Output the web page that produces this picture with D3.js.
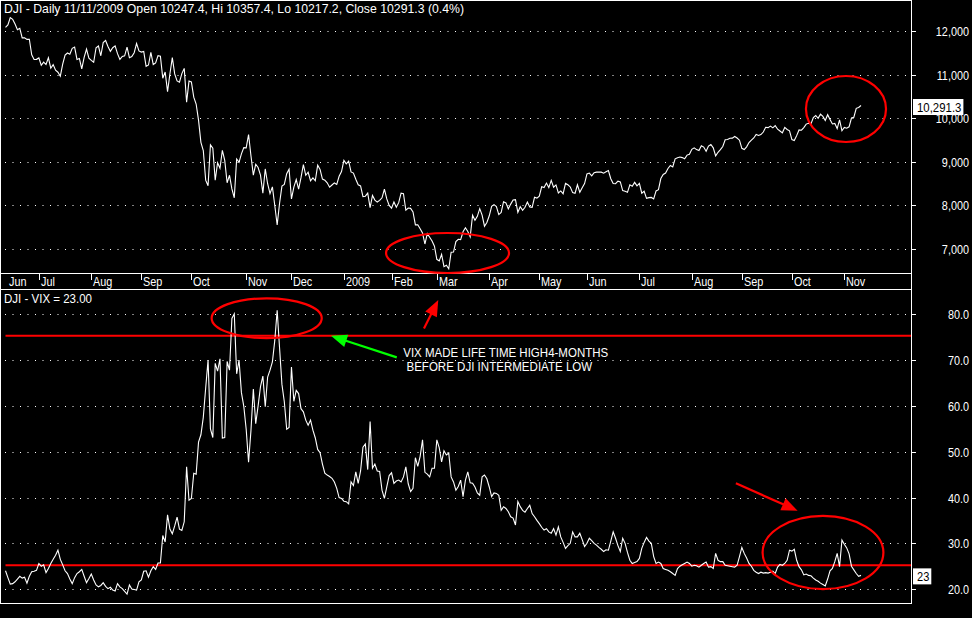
<!DOCTYPE html>
<html><head><meta charset="utf-8">
<script src="https://cdn.jsdelivr.net/npm/d3@7"></script>
<style>html,body{margin:0;padding:0;background:#000;overflow:hidden}</style>
</head><body>
<svg id="c" width="972" height="618"></svg>
<script>
// ---- data (daily closes, 11 Jun 2008 .. 11 Nov 2009, trading-day order) ----
const djiClose = [
12083,12141,12307,12269,12160,12029,12063,11843,11842,11807,11811,11453,11346,11350,
11383,11215,11288,11231,11385,11147,11229,11100,11055,10963,11239,11446,11496,11467,11603,11632,11349,11371,11132,11397,11584,11378,
11326,11284,11616,11656,11432,11734,11783,11643,11533,11616,11660,11480,11349,11418,11431,11628,11387,11413,11502,11715,11544,
11516,11533,11188,11220,11511,11231,11268,11434,11421,10918,11059,10610,11020,11388,11016,10855,10825,11023,11143,10365,10851,
10831,10483,10325,9955,9447,9258,8579,8451,9387,9311,8578,8979,8852,9265,9034,8519,8691,8378,8176,9065,8991,9181,9325,
9319,9625,9139,8695,8943,8870,8694,8283,8836,8497,8273,8425,7997,7552,8046,8443,8480,8727,8829,
8149,8419,8592,8376,8636,8935,8691,8761,8566,8630,8565,8924,8824,8604,8579,8519,8419,8468,8515,8483,8668,8776,
9034,8952,9015,8769,8742,8599,8474,8448,8200,8212,8281,7949,8228,8123,8077,8116,8175,8375,8149,8001,
7936,8078,7956,8063,8280,8270,7889,7939,7933,7850,7553,7556,7466,7366,7115,7351,7271,7183,7063,
6764,6726,6876,6595,6627,6547,6926,6930,7170,7224,7217,7395,7487,7400,7279,7776,7660,7750,7925,7776,7523,7609,
7762,7979,8018,7975,7789,7838,8084,8058,7921,8030,8126,8132,7842,7970,7887,7957,8076,7966,7957,8186,8168,
8212,8427,8410,8512,8409,8575,8418,8469,8285,8332,8268,8504,8474,8423,8294,8278,8473,8300,8404,8500,
8721,8741,8676,8750,8764,8764,8763,8740,8770,8799,8612,8504,8497,8555,8539,8339,8323,8300,8472,8438,8529,8447,
8504,8280,8324,8163,8179,8183,8147,8332,8360,8616,8711,8743,8848,8916,8882,9069,9093,9109,9096,9070,9154,9172,
9287,9320,9280,9257,9370,9338,9242,9362,9398,9321,9136,9218,9280,9350,9506,9510,9540,9543,9580,9545,9496,
9310,9280,9344,9442,9497,9547,9627,9605,9626,9683,9792,9784,9820,9778,9829,9748,9707,9665,9789,9742,9712,
9509,9488,9600,9731,9725,9786,9865,9885,9871,10016,10063,9996,10093,10042,9949,10081,9972,9868,9882,9763,9962,9713,
9789,9771,9802,10005,10023,10227,10247,10291.3
];
const vixClose = [
24.0,22.5,21.1,21.2,21.6,22.2,22.8,22.4,22.6,21.3,22.8,23.8,23.9,24.1,
25.6,25.0,25.3,23.6,24.5,25.6,26.5,27.4,28.5,26.5,25.3,24.0,23.4,22.2,21.2,22.5,23.4,23.8,24.3,22.8,21.4,22.3,
23.3,22.0,20.9,20.5,20.8,21.4,20.6,20.1,20.4,19.8,19.6,21.2,20.5,20.1,19.5,18.9,20.9,20.0,19.9,19.8,21.6,
22.0,23.9,24.0,22.6,24.0,24.9,24.3,25.7,25.7,31.7,30.3,36.2,33.1,32.1,33.8,35.7,33.1,32.8,34.7,46.7,39.4,
39.8,45.3,45.1,52.1,53.7,57.5,63.9,70.0,55.0,53.1,69.3,67.6,70.3,53.0,53.1,69.7,67.8,79.1,80.1,67.0,70.0,62.9,59.9,
54.9,47.7,54.6,63.7,56.1,60.0,64.2,66.5,59.8,66.3,67.8,69.6,74.3,80.9,72.7,64.7,60.9,54.9,55.3,
68.5,61.0,63.4,62.7,59.4,58.7,56.9,55.8,56.9,54.7,53.0,50.5,49.8,47.3,45.3,44.9,44.6,44.2,43.4,42.0,40.0,39.8,
39.2,39.1,38.6,43.4,42.6,45.6,43.1,45.8,51.0,51.7,46.1,56.6,46.4,47.3,45.8,45.7,41.6,39.8,42.3,44.8,
45.4,43.1,43.6,43.8,43.4,44.5,46.7,43.0,41.3,42.0,48.7,46.8,49.0,52.6,45.5,45.1,44.5,46.4,46.4,
52.6,50.9,47.8,50.2,49.3,49.7,44.5,43.4,41.6,42.4,43.8,40.2,43.8,45.6,43.2,43.1,42.3,41.0,40.5,44.5,44.9,44.1,
42.3,40.2,41.0,40.9,40.5,37.2,38.0,37.6,36.9,35.8,35.5,34.0,39.1,38.0,37.2,36.8,37.6,38.3,36.5,35.8,35.0,
34.3,33.5,32.9,33.2,32.5,32.2,33.2,31.8,33.6,31.4,30.2,28.9,29.5,30.0,32.5,31.4,31.4,32.2,30.8,29.3,
30.0,31.1,30.6,30.0,29.6,29.1,28.7,28.2,28.6,28.5,30.5,32.5,31.1,29.5,28.2,31.1,30.0,28.0,26.3,25.6,25.8,26.0,
26.7,28.9,30.2,31.3,30.5,30.0,27.1,25.6,25.9,25.6,24.5,24.3,24.1,23.8,23.4,23.0,24.5,25.0,25.3,25.6,25.9,25.6,
25.0,25.2,25.1,24.8,25.2,25.6,25.9,24.8,24.9,24.5,27.8,26.3,26.0,26.0,25.2,25.1,25.0,24.9,24.8,25.2,27.1,
29.1,27.8,26.8,25.6,25.0,24.1,23.7,23.4,23.7,23.5,23.6,23.5,23.7,23.9,23.4,24.8,25.4,25.2,25.6,26.3,28.5,
28.3,28.7,26.3,24.9,24.2,23.1,23.3,23.0,22.9,22.4,22.0,21.7,21.3,21.0,20.7,22.2,24.0,24.5,26.0,27.8,24.9,30.7,
29.8,29.0,27.7,25.0,24.2,23.4,22.8,23.0
];
const monthLabels = ["Jun","Jul","Aug","Sep","Oct","Nov","Dec","2009","Feb","Mar","Apr","May","Jun","Jul","Aug","Sep","Oct","Nov"];
const monthStart  = [0,14,36,57,78,101,120,142,162,181,203,224,244,266,288,309,330,352];
const djiTicks = [7000,8000,9000,10000,11000,12000];
const vixTicks = [20,30,40,50,60,70,80];
const vixRefLines = [75.3,25.2];
const titleTop = "DJI - Daily 11/11/2009 Open 10247.4, Hi 10357.4, Lo 10217.2, Close 10291.3 (0.4%)";
const titleBottom = "DJI - VIX = 23.00";
const noteLines = ["VIX MADE LIFE TIME HIGH4-MONTHS"," BEFORE DJI INTERMEDIATE LOW"];
// annotation ellipses as data boxes [dayFrom, dayTo, valueHigh, valueLow]
const topEllipses = [[159.7,211.3,7367,6450],[335.9,369.5,10968,9454]];
const vixEllipses = [[86.5,132.7,83.5,74.8],[317.7,368.4,36.0,20.0]];
// arrows [dayTail, valueTail, dayTip, valueTip, colour]
const vixArrows = [[164.2,70.6,136.6,75.3,"#00ff00"],[175.6,76.9,181.6,83.1,"#ff0000"],[306.5,43.1,332.4,37.1,"#ff0000"]];
const notePos = [166.9,70.7];

// ---- drawing ----
const FONT = "'Liberation Sans Narrow','Arial Narrow','Liberation Sans',Arial,sans-serif";
const svg = d3.select("#c");
svg.append("rect").attr("width",972).attr("height",618).attr("fill","#000");

const PL = 0.5, PR = 911.5;
const x  = d3.scaleLinear().domain([-1.89,380.4]).range([1,912]);
const yT = d3.scaleLinear().domain([6427,12711]).range([274,0]);
const yB = d3.scaleLinear().domain([16.75,85.09]).range([604,291]);

const defs = svg.append("defs");
defs.append("clipPath").attr("id","cT").append("rect").attr("x",1).attr("y",1).attr("width",910).attr("height",272);
defs.append("clipPath").attr("id","cB").append("rect").attr("x",1).attr("y",290).attr("width",910).attr("height",313);

// text helper with horizontal fit
let k = 1;
function txt(g, s, xx, yy, opts={}) {
  const t = g.append("text").attr("x",xx).attr("y",yy).text(s)
    .attr("font-family",FONT).attr("font-size",opts.size||13)
    .attr("fill",opts.fill||"#fff").attr("text-anchor",opts.anchor||"start")
    .style("white-space","pre");
  const nat = t.node().getComputedTextLength();
  const target = opts.width || nat*k;
  if (Math.abs(target-nat)>0.3) t.attr("textLength",target).attr("lengthAdjust","spacingAndGlyphs");
  return t;
}
// probe compression factor from a month label ("Aug" is ~19.3px wide in the reference)
{
  const p = svg.append("text").text("Aug").attr("font-family",FONT).attr("font-size",13);
  k = 19.3 / p.node().getComputedTextLength();
  p.remove();
}

// grid lines
const grid = svg.append("g").attr("stroke","#fff").attr("stroke-width",1).attr("stroke-dasharray","1,6.5");
djiTicks.forEach(v=>{
  const yy = Math.round(yT(v))+0.5;
  grid.append("line").attr("x1",5).attr("x2",911).attr("y1",yy).attr("y2",yy);
});
vixTicks.forEach(v=>{
  const yy = Math.round(yB(v))+0.5;
  grid.append("line").attr("x1",5).attr("x2",911).attr("y1",yy).attr("y2",yy);
});

// frames
const fr = svg.append("g").attr("stroke","#fff").attr("stroke-width",1).attr("fill","none");
fr.append("line").attr("x1",0).attr("x2",912).attr("y1",0.5).attr("y2",0.5);
fr.append("line").attr("x1",0).attr("x2",912).attr("y1",273.5).attr("y2",273.5);
fr.append("line").attr("x1",0).attr("x2",912).attr("y1",289.5).attr("y2",289.5);
fr.append("line").attr("x1",0).attr("x2",912).attr("y1",603.5).attr("y2",603.5);
fr.append("line").attr("x1",PL).attr("x2",PL).attr("y1",0).attr("y2",604);
fr.append("line").attr("x1",PR).attr("x2",PR).attr("y1",0).attr("y2",604);

// right axis ticks + labels
const ax = svg.append("g");
djiTicks.forEach(v=>{
  const yy = Math.round(yT(v))+0.5;
  ax.append("line").attr("x1",912).attr("x2",916).attr("y1",yy).attr("y2",yy).attr("stroke","#fff");
  txt(ax, d3.format(",")(v), 969, yy+4.5, {anchor:"end"});
});
vixTicks.forEach(v=>{
  const yy = Math.round(yB(v))+0.5;
  ax.append("line").attr("x1",912).attr("x2",916).attr("y1",yy).attr("y2",yy).attr("stroke","#fff");
  txt(ax, d3.format(".1f")(v), 969, yy+4.5, {anchor:"end"});
});

// month axis strip
const ms = svg.append("g");
monthLabels.forEach((m,i)=>{
  const xx = Math.round(x(monthStart[i]))+0.5;
  if (i>0) ms.append("line").attr("x1",xx).attr("x2",xx).attr("y1",274).attr("y2",280).attr("stroke","#fff");
  txt(ms, m, xx+(i===0?2.5:1.5), 286);
});

// red reference lines
vixRefLines.forEach(v=>{
  svg.append("line").attr("x1",x(0)).attr("x2",911).attr("y1",yB(v)).attr("y2",yB(v))
    .attr("stroke","#ff0000").attr("stroke-width",2);
});

// data lines
const lineT = d3.line().x((d,i)=>x(i)).y(d=>yT(d));
const lineB = d3.line().x((d,i)=>x(i)).y(d=>yB(d));
svg.append("path").attr("d",lineT(djiClose)).attr("fill","none").attr("stroke","#fff").attr("stroke-width",1.1).attr("clip-path","url(#cT)");
svg.append("path").attr("d",lineB(vixClose)).attr("fill","none").attr("stroke","#fff").attr("stroke-width",1.1).attr("clip-path","url(#cB)");

// ellipses
function ell(box, ys, clip){
  const x0=x(box[0]), x1=x(box[1]), y0=ys(box[2]), y1=ys(box[3]);
  svg.append("ellipse").attr("cx",(x0+x1)/2).attr("cy",(y0+y1)/2)
    .attr("rx",(x1-x0)/2).attr("ry",(y1-y0)/2)
    .attr("fill","none").attr("stroke","#ff0000").attr("stroke-width",2.2);
}
topEllipses.forEach(b=>ell(b,yT));
vixEllipses.forEach(b=>ell(b,yB));

// arrows
vixArrows.forEach(a=>{
  const x0=x(a[0]), y0=yB(a[1]), x1=x(a[2]), y1=yB(a[3]);
  const dx=x1-x0, dy=y1-y0, L=Math.hypot(dx,dy), ux=dx/L, uy=dy/L;
  const hl=16, hw=6.5;
  const bx=x1-ux*hl, by=y1-uy*hl;
  svg.append("line").attr("x1",x0).attr("y1",y0).attr("x2",bx+ux*2).attr("y2",by+uy*2)
    .attr("stroke",a[4]).attr("stroke-width",2.2);
  svg.append("path").attr("d",`M${x1},${y1}L${bx-uy*hw},${by+ux*hw}L${bx+uy*hw},${by-ux*hw}Z`)
    .attr("fill",a[4]);
});

// note text
noteLines.forEach((s,i)=>{
  txt(svg, s, x(notePos[0]), yB(notePos[1])+i*14, {width: i===0?205:189});
});

// titles
txt(svg, titleTop, 4, 13, {width:460});
txt(svg, titleBottom, 4, 302.5, {width:88});

// last value boxes
function valBox(label, yy, w){
  const g = svg.append("g");
  const r = g.append("rect").attr("x",913).attr("y",yy-7.5).attr("height",16).attr("fill","#fff");
  const t = txt(g, label, 917, yy+5.5, {fill:"#000", width:w});
  r.attr("width", w+6);
}
valBox(d3.format(",.1f")(djiClose[djiClose.length-1]), yT(djiClose[djiClose.length-1])+1, 44.4);
valBox(d3.format("d")(vixClose[vixClose.length-1]), yB(vixClose[vixClose.length-1])+0.5, 12.3);
</script>
</body></html>
